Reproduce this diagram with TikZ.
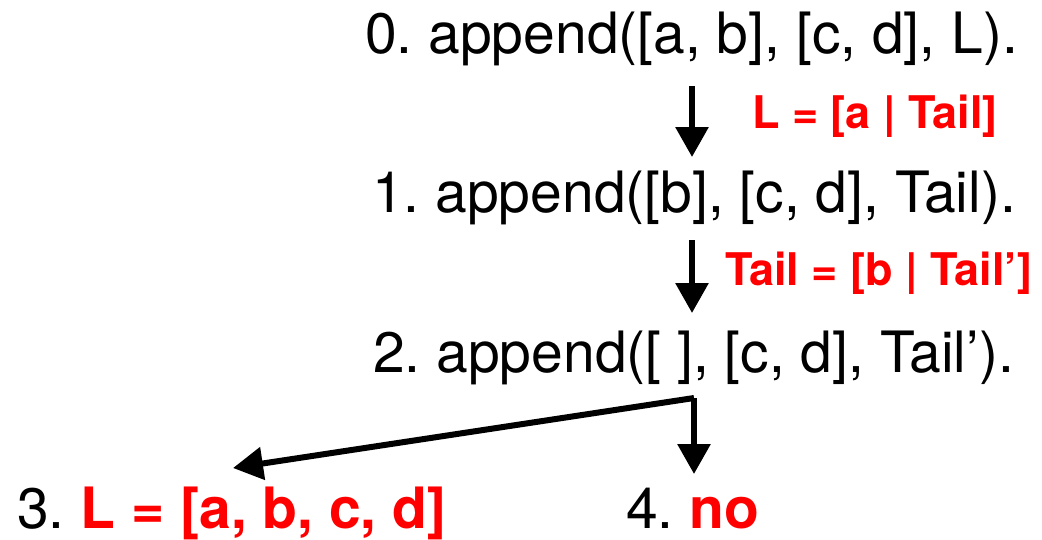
\documentclass[tikz,border=0pt]{standalone}
\usepackage{fontspec}
\setmainfont{TeX Gyre Heros}
\usetikzlibrary{arrows.meta}
\definecolor{lblred}{RGB}{255,0,0}
\frenchspacing
\begin{document}
\begin{tikzpicture}[x=1pt,y=-1pt,
  goal/.style={anchor=base west,inner sep=0pt,font=\fontsize{57}{60}\selectfont\frenchspacing},
  lbl/.style={anchor=base west,inner sep=0pt,text=lblred,font=\fontsize{45}{50}\selectfont\bfseries},
  conn/.style={line width=6pt,-{Triangle[length=30pt,width=32pt]}}]
\useasboundingbox (0,0) rectangle (1042,539);
\node[goal] (g0) at (365,53) {0. append([a, b], [c, d], L).};
\node[goal] (g1) at (372,212) {1. append([b], [c, d], Tail).};
\node[goal] (g2) at (373,372) {2. append([ ], [c, d], Tail’).};
\node[goal] (g3) at (17,528) {3. \textcolor{lblred}{\bfseries L = [a, b, c, d]}};
\node[goal] (g4) at (626,528) {4. \textcolor{lblred}{\bfseries no}};
\node[lbl] (l1) at (752,128) {L = [a | Tail]};
\node[lbl] (l2) at (725,285) {Tail = [b | Tail’]};
\coordinate (a0) at (692,86);
\coordinate (a1) at (692,157);
\coordinate (b0) at (692,240);
\coordinate (b1) at (692,313);
\coordinate (c0) at (694,398);
\coordinate (c3) at (233,468);
\coordinate (c4) at (694,474);
\draw[conn] (a0) -- (a1);
\draw[conn] (b0) -- (b1);
\draw[conn] (c0) -- (c4);
\draw[conn] (c0) -- (c3);
\end{tikzpicture}
\end{document}
